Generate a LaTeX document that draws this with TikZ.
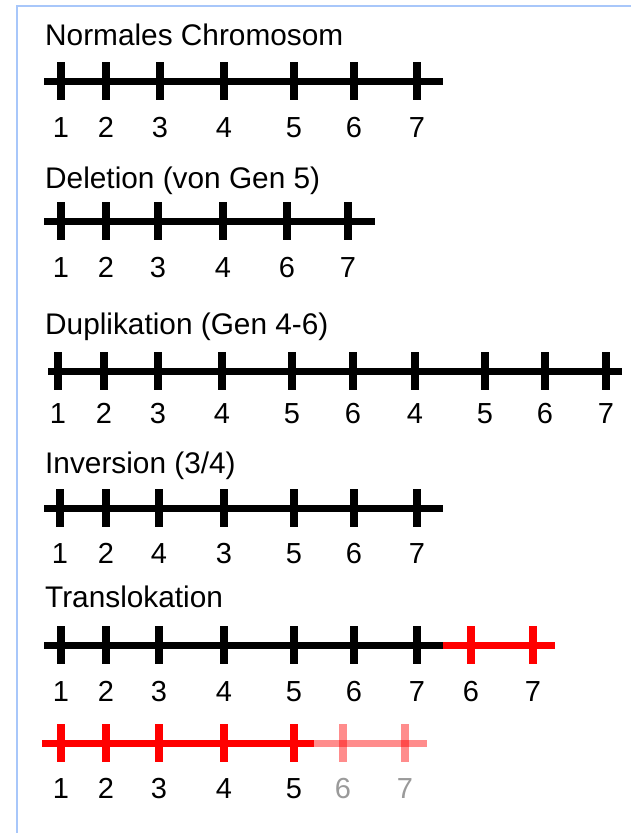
\documentclass[tikz,border=0pt]{standalone}
\usepackage{fontspec}
\setmainfont{Liberation Sans}
\definecolor{bordercol}{HTML}{A8C7FA}
\definecolor{fadedgray}{HTML}{9A9A9A}
\begin{document}
\begin{tikzpicture}[x=1pt,y=-1pt,
  title/.style={anchor=base west, font=\fontsize{29.8}{31}\selectfont, inner sep=0pt},
  lab/.style={anchor=base, font=\fontsize{29}{31}\selectfont, inner sep=0pt},
  chrom/.style={line width=7pt},
  tickmark/.style={line width=7.5pt},
  faded/.style={red, opacity=0.45}]
\useasboundingbox (0,0) rectangle (630,833);
\fill[white] (0,0) rectangle (630,833);
\draw[bordercol, line width=2pt] (631,6) -- (17,6) -- (17,834);

% Normal
\node[title] (t1) at (45,45) {Normales Chromosom};
\draw[chrom] (44,81) -- (443,81);
\foreach \x/\l [count=\i] in {61/1,106/2,160/3,224/4,294/5,354/6,417/7} {
  \draw[tickmark] (\x,62) -- (\x,100);
  \node[lab] (n\i) at (\x,137) {\l};
}

% Deletion
\node[title] (t2) at (45,188) {Deletion (von Gen 5)};
\draw[chrom] (44,221) -- (375,221);
\foreach \x/\l [count=\i] in {61/1,106/2,158/3,223/4,287/6,348/7} {
  \draw[tickmark] (\x,202) -- (\x,240);
  \node[lab] (d\i) at (\x,277) {\l};
}

% Duplication
\node[title] (t3) at (45,334) {Duplikation (Gen 4-6)};
\draw[chrom] (48,371) -- (622,371);
\foreach \x/\l [count=\i] in {58/1,104/2,158/3,222/4,292/5,353/6,415/4,485/5,545/6,606/7} {
  \draw[tickmark] (\x,352) -- (\x,390);
  \node[lab] (u\i) at (\x,423) {\l};
}

% Inversion
\node[title] (t4) at (45,473) {Inversion (3/4)};
\draw[chrom] (44,508) -- (443,508);
\foreach \x/\l [count=\i] in {60/1,106/2,159/4,224/3,294/5,354/6,417/7} {
  \draw[tickmark] (\x,489) -- (\x,527);
  \node[lab] (v\i) at (\x,563) {\l};
}

% Translocation
\node[title] (t5) at (45,607) {Translokation};
\draw[chrom] (44,645) -- (443,645);
\draw[chrom, red] (443,645) -- (555,645);
\foreach \x/\l [count=\i] in {61/1,106/2,159/3,224/4,294/5,354/6,417/7} {
  \draw[tickmark] (\x,626) -- (\x,664);
  \node[lab] (a\i) at (\x,701) {\l};
}
\foreach \x/\l [count=\i] in {471/6,533/7} {
  \draw[tickmark, red] (\x,626) -- (\x,664);
  \node[lab] (b\i) at (\x,701) {\l};
}

\draw[chrom, red] (42,743) -- (314,743);
\draw[chrom, faded] (314,743) -- (427,743);
\foreach \x/\l [count=\i] in {61/1,106/2,159/3,224/4,294/5} {
  \draw[tickmark, red] (\x,724) -- (\x,762);
  \node[lab] (c\i) at (\x,798) {\l};
}
\foreach \x/\l [count=\i] in {343/6,405/7} {
  \draw[tickmark, faded] (\x,724) -- (\x,762);
  \node[lab, text=fadedgray] (e\i) at (\x,798) {\l};
}
\end{tikzpicture}
\end{document}
